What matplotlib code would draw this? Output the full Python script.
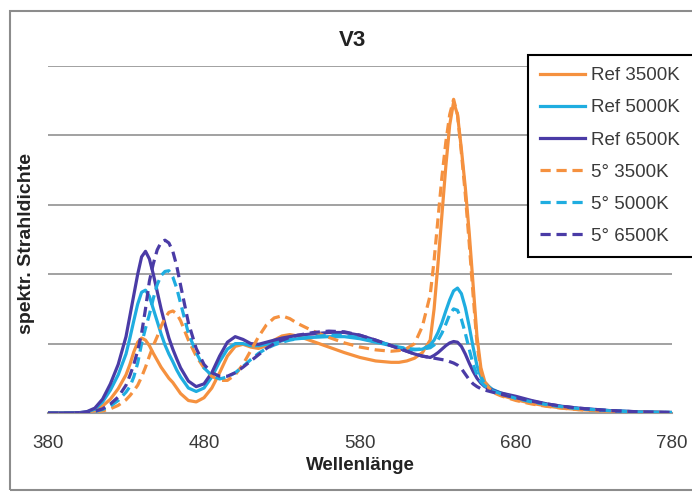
import matplotlib.pyplot as plt
from matplotlib.patches import Rectangle

plt.rcParams['font.family'] = ['Liberation Sans', 'DejaVu Sans']

# Wellenlängen (nm)
wl = [380, 390, 400, 405, 410, 415, 420, 425,
      430, 432.5, 435, 437.5, 440, 442.5, 445, 447.5, 450, 452.5, 455, 457.5, 460, 462.5, 465,
      470, 475, 480, 485, 490, 495, 500, 505, 510, 515, 520, 525, 530, 535, 540,
      550, 560, 570, 580, 590, 600, 605, 610, 615, 620,
      625, 627.5, 630, 632.5, 635, 637.5, 640, 642.5, 645, 647.5, 650, 652.5, 655, 657.5, 660,
      665, 670, 680, 690, 700, 710, 720, 740, 760, 780]

ref_3500 = [0, 0, 0.003, 0.01, 0.035, 0.1, 0.2, 0.35,
            0.55, 0.7, 0.88, 1.02, 1.08, 1.05, 0.97, 0.86, 0.76, 0.66, 0.58, 0.5, 0.44, 0.36, 0.28,
            0.18, 0.16, 0.22, 0.36, 0.58, 0.82, 0.96, 0.99, 0.95, 0.93, 0.97, 1.05, 1.11, 1.13, 1.11,
            1.03, 0.95, 0.87, 0.8, 0.75, 0.73, 0.73, 0.75, 0.79, 0.87,
            1.05, 1.5, 2.15, 2.85, 3.55, 4.15, 4.48, 4.3, 3.8, 3.25, 2.6, 1.85, 1.1, 0.65, 0.45,
            0.32, 0.26, 0.19, 0.14, 0.1, 0.07, 0.05, 0.025, 0.01, 0.005]

ref_5000 = [0, 0, 0.004, 0.015, 0.055, 0.16, 0.33, 0.55,
            0.85, 1.08, 1.33, 1.57, 1.74, 1.77, 1.68, 1.5, 1.32, 1.14, 0.98, 0.85, 0.74, 0.62, 0.52,
            0.36, 0.31, 0.36, 0.52, 0.74, 0.92, 1.0, 1.0, 0.97, 0.97, 0.99, 1.02, 1.04, 1.06, 1.07,
            1.09, 1.1, 1.1, 1.07, 1.02, 0.97, 0.94, 0.92, 0.91, 0.92,
            0.98, 1.05, 1.16, 1.3, 1.47, 1.63, 1.76, 1.8, 1.72, 1.52, 1.25, 0.95, 0.68, 0.52, 0.42,
            0.34, 0.29, 0.22, 0.17, 0.12, 0.09, 0.065, 0.033, 0.014, 0.007]

ref_6500 = [0, 0, 0.005, 0.02, 0.07, 0.2, 0.42, 0.7,
            1.1, 1.4, 1.7, 2.0, 2.25, 2.33, 2.22, 2.0, 1.75, 1.5, 1.28, 1.08, 0.92, 0.78, 0.65,
            0.46, 0.38, 0.42, 0.58, 0.82, 1.02, 1.1, 1.06, 1.0, 0.99, 1.02, 1.05, 1.08, 1.1, 1.12,
            1.14, 1.16, 1.16, 1.12, 1.05, 0.97, 0.93, 0.89, 0.85, 0.82,
            0.8, 0.83, 0.87, 0.92, 0.97, 1.01, 1.03, 1.02, 0.96, 0.85, 0.72, 0.6, 0.5, 0.43, 0.38,
            0.33, 0.29, 0.24, 0.18, 0.13, 0.095, 0.07, 0.035, 0.015, 0.008]

deg5_3500 = [0, 0, 0.001, 0.004, 0.012, 0.03, 0.06, 0.11,
             0.19, 0.25, 0.32, 0.4, 0.52, 0.66, 0.82, 0.97, 1.1, 1.25, 1.37, 1.45, 1.47, 1.43, 1.33,
             1.05, 0.82, 0.65, 0.53, 0.47, 0.47, 0.55, 0.7, 0.9, 1.1, 1.27, 1.37, 1.4, 1.36, 1.29,
             1.18, 1.09, 1.01, 0.95, 0.91, 0.89, 0.9, 0.93, 1.0, 1.25,
             1.7, 2.2, 2.8, 3.4, 3.9, 4.3, 4.52, 4.3, 3.75, 3.15, 2.45, 1.7, 1.0, 0.6, 0.43,
             0.3, 0.25, 0.18, 0.13, 0.095, 0.068, 0.048, 0.024, 0.01, 0.005]

deg5_5000 = [0, 0, 0.002, 0.006, 0.02, 0.05, 0.1, 0.18,
             0.3, 0.38, 0.52, 0.72, 1.0, 1.22, 1.42, 1.65, 1.85, 1.98, 2.04, 2.05, 1.96, 1.8, 1.58,
             1.15, 0.87, 0.65, 0.54, 0.49, 0.52, 0.58, 0.67, 0.77, 0.86, 0.93, 0.98, 1.02, 1.05, 1.07,
             1.1, 1.12, 1.12, 1.08, 1.03, 0.98, 0.95, 0.93, 0.92, 0.92,
             0.94, 0.98, 1.05, 1.15, 1.28, 1.42, 1.5, 1.48, 1.35, 1.15, 0.92, 0.7, 0.55, 0.45, 0.39,
             0.32, 0.28, 0.21, 0.16, 0.12, 0.088, 0.064, 0.032, 0.014, 0.007]

deg5_6500 = [0, 0, 0.002, 0.008, 0.025, 0.06, 0.13, 0.23,
             0.4, 0.54, 0.7, 0.9, 1.15, 1.5, 1.9, 2.15, 2.35, 2.46, 2.49, 2.45, 2.33, 2.12, 1.84,
             1.3, 0.93, 0.7, 0.58, 0.53, 0.53, 0.58, 0.66, 0.75, 0.84, 0.93, 1.0, 1.05, 1.09, 1.12,
             1.16, 1.18, 1.17, 1.12, 1.05, 0.97, 0.93, 0.89, 0.85, 0.82,
             0.8, 0.79, 0.78, 0.77, 0.76, 0.74, 0.72, 0.69, 0.64, 0.56, 0.48, 0.42, 0.38, 0.35, 0.33,
             0.3, 0.27, 0.22, 0.17, 0.13, 0.095, 0.07, 0.035, 0.016, 0.008]

labels = ['Ref 3500K', 'Ref 5000K', 'Ref 6500K', '5° 3500K', '5° 5000K', '5° 6500K']
xticks = [380, 480, 580, 680, 780]

orange = '#F5913F'
cyan = '#1FADE0'
blue = '#4A3BA6'

W, H = 692, 495
fig = plt.figure(figsize=(W / 100, H / 100), dpi=100)

# Rahmen des Diagramms
fig.add_artist(Rectangle((10 / W, 1 - 490 / H), 1.2, (490 - 11) / H,
                         transform=fig.transFigure, fill=False,
                         edgecolor='#8C8C8C', lw=1.5))

ax = fig.add_axes([48 / W, 1 - 413 / H, (672 - 48) / W, (413 - 66) / H])
ax.set_xlim(380, 780)
ax.set_ylim(0, 5)

serien = [ref_3500, ref_5000, ref_6500, deg5_3500, deg5_5000, deg5_6500]
farben = [orange, cyan, blue, orange, cyan, blue]
for i, (werte, farbe, name) in enumerate(zip(serien, farben, labels)):
    if i < 3:
        ax.plot(wl, werte, color=farbe, lw=2.3, label=name, zorder=3)
    else:
        ax.plot(wl, werte, color=farbe, lw=2.3, label=name, zorder=3,
                linestyle=(0, (3.2, 1.8)))

ax.set_yticks([1, 2, 3, 4, 5])
ax.yaxis.grid(True, color='#9A9A9A', lw=1.3)
ax.set_axisbelow(True)
ax.tick_params(axis='y', left=False, labelleft=False)
ax.set_xticks(xticks)
ax.set_xticklabels([str(t) for t in xticks])
ax.tick_params(axis='x', bottom=False, labelsize=13.5, colors='#3A3A3A', pad=12)
for s in ['left', 'right', 'top']:
    ax.spines[s].set_visible(False)
ax.spines['bottom'].set_color('#9A9A9A')
ax.spines['bottom'].set_linewidth(1.5)

fig.text(352 / W, 1 - 40 / H, 'V3', ha='center', va='center',
         fontsize=16, fontweight='bold', color='#222222')
fig.text(360 / W, 1 - 466 / H, 'Wellenlänge', ha='center', va='center',
         fontsize=13.5, fontweight='bold', color='#222222')
fig.text(27 / W, 1 - 243 / H, 'spektr. Strahldichte', ha='center', va='center',
         rotation=90, fontsize=14, fontweight='bold', color='#222222')

leg = ax.legend(loc='upper left', bbox_to_anchor=(528 / W, 1 - 60 / H, 180 / W, 0.01),
                bbox_transform=fig.transFigure, mode='expand',
                fontsize=13.5, handlelength=2.4, handletextpad=0.3,
                labelspacing=0.8, borderpad=0.65, borderaxespad=0,
                fancybox=False, framealpha=1)
leg.get_frame().set_edgecolor('black')
leg.get_frame().set_linewidth(1.5)
for t in leg.get_texts():
    t.set_color('#3A3A3A')

fig.savefig('out.png', dpi=100)
